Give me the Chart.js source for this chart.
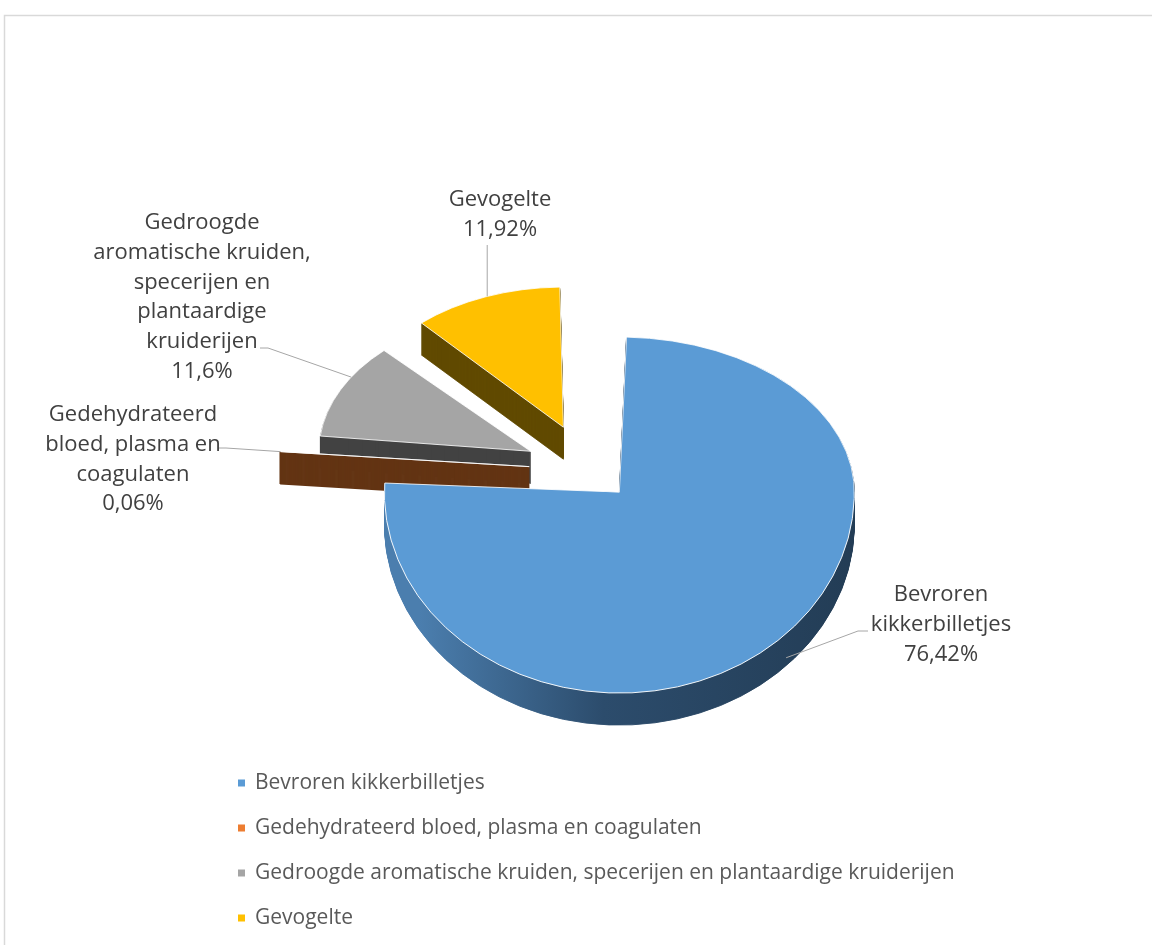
<!DOCTYPE html>
<html>
<head>
<meta charset="utf-8">
<script src="https://cdn.jsdelivr.net/npm/chart.js@4.4.1/dist/chart.umd.min.js"></script>
<style>
  html, body { margin: 0; padding: 0; background: #fff; }
  #wrap { position: relative; width: 1152px; height: 945px; }
</style>
</head>
<body>
<div id="wrap"><canvas id="taart" width="1152" height="945"></canvas></div>
<script>
// --- data ---
const categories = [
  'Bevroren kikkerbilletjes',
  'Gedehydrateerd bloed, plasma en coagulaten',
  'Gedroogde aromatische kruiden, specerijen en plantaardige kruiderijen',
  'Gevogelte'
];
const shares = [76.42, 0.06, 11.6, 11.92];
const shareText = ['76,42%', '0,06%', '11,6%', '11,92%'];
const labelLines = [
  ['Bevroren', 'kikkerbilletjes'],
  ['Gedehydrateerd', 'bloed, plasma en', 'coagulaten'],
  ['Gedroogde', 'aromatische kruiden,', 'specerijen en', 'plantaardige', 'kruiderijen'],
  ['Gevogelte']
];

// --- stijl ---
const topColors = ['#5B9BD5', '#ED7D31', '#A5A5A5', '#FFC000'];
const sideColors = ['#27445f', '#633413', '#434343', '#614a00'];
const sideStroke = [1, 3, 1, 1];       // smal segment krijgt een dikke rand als zijvlak
const explode = [180, 240, 260, 280];  // chart.js offset per segment
const squashBack = 0.66;               // achterste helft (perspectief)
const squashFront = 0.855;             // voorste helft
const depth = 32;                      // dikte van de taart in px
const fontName = '"Open Sans", sans-serif';
const drawOrder = [3, 2, 1, 0];        // van achter naar voor

// plaats van de datalabels (midden x, y van eerste regel)
const labelPos = [[941, 595], [133, 415], [202, 223], [500, 200]];
const lineGap = 29.7;
const leaderFrom = [[868, 631], [218, 448], [260, 348], null];
const anchorFrac = [0.49, 0.5, 0.64, 0.51];
const anchorDrop = [24, 0, 0, 0];

const ctx = document.getElementById('taart').getContext('2d');
let splitY = 0; // hoogte van de punt van het grote segment

function mapY(y) {
  return splitY + (y - splitY) * (y < splitY ? squashBack : squashFront);
}

// tekent fn twee keer: achterhelft en voorhelft met elk een eigen platdrukking
function drawTilted(c, fn, d) {
  const W = c.canvas.width, H = c.canvas.height;
  [[squashBack, 0, splitY + d], [squashFront, splitY + d, H]].forEach(([k, y0, y1]) => {
    c.save();
    c.beginPath();
    c.rect(0, y0, W, y1 - y0);
    c.clip();
    c.translate(0, d + splitY);
    c.scale(1, k);
    c.translate(0, -splitY);
    fn();
    c.restore();
  });
}

// punt op de buitenrand van een (uitgeschoven) segment, zoals ArcElement het tekent
function rimPoint(arc, frac) {
  const off = (arc.options.offset || 0) / 4;
  const fix = 1 - Math.sin(Math.min(Math.PI, arc.circumference || 0));
  const r = arc.outerRadius + off * fix;
  const half = (arc.startAngle + arc.endAngle) / 2;
  const a = arc.startAngle + frac * (arc.endAngle - arc.startAngle);
  const px = arc.x + Math.cos(half) * off + Math.cos(a) * r;
  const py = arc.y + Math.sin(half) * off + Math.sin(a) * r;
  return { x: px, y: mapY(py) };
}

function drawArcWith(c, arc, fill, bw, stroke) {
  const saved = arc.options;
  arc.options = Object.assign({}, saved, { backgroundColor: fill, borderWidth: bw, borderColor: stroke });
  arc.draw(c);
  arc.options = saved;
}

// 3D-effect: per segment de zijkant stapelen, daarna de bovenkant
const pie3d = {
  id: 'pie3d',
  beforeDraw(chart) {
    const c = chart.ctx;
    c.save();
    c.strokeStyle = '#d9d9d9';
    c.lineWidth = 1.5;
    c.beginPath();
    c.moveTo(4.5, 945);
    c.lineTo(4.5, 15.5);
    c.lineTo(1152, 15.5);
    c.stroke();
    c.restore();
  },
  beforeDatasetsDraw(chart) {
    const c = chart.ctx;
    const arcs = chart.getDatasetMeta(0).data;
    const big = arcs[0];
    const halfBig = (big.startAngle + big.endAngle) / 2;
    splitY = Math.round(big.y + Math.sin(halfBig) * (big.options.offset || 0) / 4);
    const cx = big.x;
    const blueSide = c.createLinearGradient(cx - 200, 0, cx + 260, 0);
    blueSide.addColorStop(0, '#4b7eae');
    blueSide.addColorStop(0.4, '#2c4c6c');
    blueSide.addColorStop(1, '#223b53');
    const fills = sideColors.slice();
    fills[0] = blueSide;
    drawOrder.forEach(i => {
      const arc = arcs[i];
      for (let d = depth; d >= 1; d--) {
        drawTilted(c, () => drawArcWith(c, arc, fills[i], sideStroke[i], fills[i]), d);
      }
      drawTilted(c, () => arc.draw(c), 0);
    });
    return false;
  },
  afterDraw(chart) {
    const c = chart.ctx;
    const arcs = chart.getDatasetMeta(0).data;
    c.save();
    // verbindingslijnen
    c.strokeStyle = '#a6a6a6';
    c.lineWidth = 1;
    arcs.forEach((arc, i) => {
      const p = rimPoint(arc, anchorFrac[i]);
      p.y += anchorDrop[i];
      const from = leaderFrom[i] || [p.x, labelPos[i][1] + 45];
      c.beginPath();
      c.moveTo(from[0], from[1]);
      if (leaderFrom[i]) c.lineTo(from[0] + (p.x < from[0] ? -10 : 8), from[1]);
      c.lineTo(p.x, p.y);
      c.stroke();
    });
    // datalabels
    c.fillStyle = '#404040';
    c.font = '22px ' + fontName;
    c.textAlign = 'center';
    c.textBaseline = 'middle';
    labelLines.forEach((lines, i) => {
      const [lx, ly] = labelPos[i];
      lines.concat([shareText[i]]).forEach((t, j) => c.fillText(t, lx, ly + j * lineGap));
    });
    // legenda
    c.textAlign = 'left';
    c.font = '21px ' + fontName;
    chart.data.labels.forEach((lab, i) => {
      const y = 783 + i * 45;
      c.fillStyle = topColors[i];
      c.fillRect(238, y - 3.5, 7, 7);
      c.fillStyle = '#595959';
      c.fillText(lab, 255, y);
    });
    c.restore();
  }
};

new Chart(ctx, {
  type: 'pie',
  data: {
    labels: categories,
    datasets: [{
      data: shares,
      backgroundColor: topColors,
      borderColor: '#ffffff',
      borderWidth: 1,
      offset: explode,
      hoverOffset: 0,
      clip: false
    }]
  },
  options: {
    responsive: false,
    animation: false,
    radius: 190,
    layout: { padding: { left: 399, right: 373, top: 269, bottom: 296 } },
    plugins: { legend: { display: false }, tooltip: { enabled: false } }
  },
  plugins: [pie3d]
});
</script>
</body>
</html>
